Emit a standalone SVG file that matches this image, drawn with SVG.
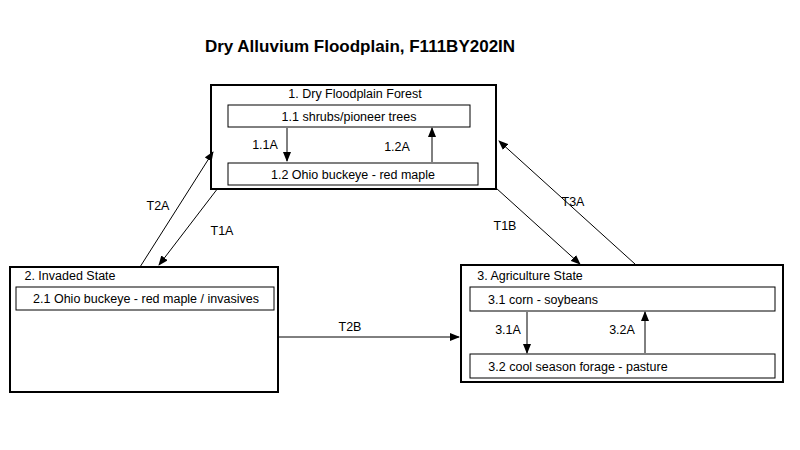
<svg xmlns="http://www.w3.org/2000/svg" width="800" height="450" viewBox="0 0 800 450">
<defs><marker id="a" markerWidth="10" markerHeight="8" refX="9" refY="4" orient="auto" markerUnits="userSpaceOnUse"><path d="M0,0 L10,4 L0,8 z" fill="#000"/></marker>
<style>
text{font-family:"Liberation Sans",Arial,sans-serif;font-size:12.5px;fill:#000;text-anchor:middle}
.o{fill:#fff;stroke:#000;stroke-width:2}
.i{fill:#fff;stroke:#000;stroke-width:1}
.c{stroke:#000;stroke-width:1;fill:none;marker-end:url(#a)}
</style></defs>
<rect width="800" height="450" fill="#fff"/>
<text x="360" y="52" style="font-size:17px;font-weight:bold">Dry Alluvium Floodplain, F111BY202IN</text>
<g id="n1"><rect class="o" x="211" y="85" width="285" height="104"/><text x="355" y="98">1. Dry Floodplain Forest</text>
<rect class="i" x="228" y="105" width="242" height="22"/><text x="349" y="121">1.1 shrubs/pioneer trees</text>
<rect class="i" x="228" y="163" width="250" height="22"/><text x="353" y="179">1.2 Ohio buckeye - red maple</text></g>
<g id="n2"><rect class="o" x="10" y="267" width="268" height="125"/><text x="70" y="280">2. Invaded State</text>
<rect class="i" x="16" y="287" width="258" height="23"/><text x="146" y="303">2.1 Ohio buckeye - red maple / invasives</text></g>
<g id="n3"><rect class="o" x="461" y="265" width="322" height="117"/><text x="530" y="280">3. Agriculture State</text>
<rect class="i" x="470" y="287" width="305" height="24"/><text x="543" y="304">3.1 corn - soybeans</text>
<rect class="i" x="470" y="354" width="305" height="24"/><text x="578" y="371">3.2 cool season forage - pasture</text></g>
<g id="connectors">
<line class="c" x1="287" y1="128" x2="287" y2="161"/>
<line class="c" x1="432" y1="162" x2="432" y2="128"/>
<line class="c" x1="527" y1="312" x2="527" y2="353"/>
<line class="c" x1="645" y1="353" x2="645" y2="312"/>
<line class="c" x1="140" y1="267" x2="213" y2="152"/>
<line class="c" x1="218" y1="188" x2="159" y2="265"/>
<line class="c" x1="496" y1="188" x2="580" y2="264"/>
<line class="c" x1="635" y1="264" x2="499" y2="141"/>
<line class="c" x1="278" y1="337" x2="459" y2="337"/>
</g>
<text x="265" y="149">1.1A</text><text x="397" y="151">1.2A</text>
<text x="508" y="334">3.1A</text><text x="622" y="334">3.2A</text>
<text x="158" y="210">T2A</text><text x="222" y="235">T1A</text>
<text x="505" y="230">T1B</text><text x="573" y="206">T3A</text>
<text x="350" y="331">T2B</text>
</svg>
